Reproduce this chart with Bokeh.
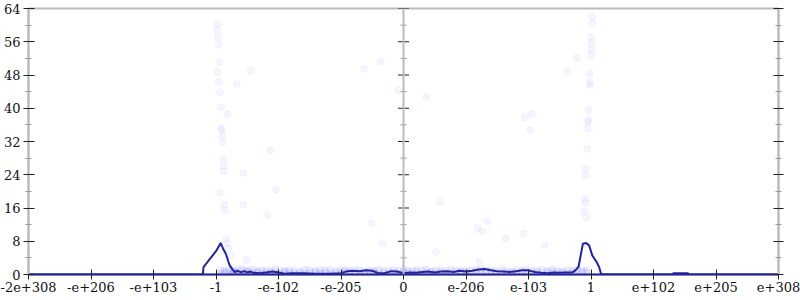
from bokeh.plotting import figure
from bokeh.models import LinearAxis, FixedTicker, Span
from bokeh.embed import file_html
from bokeh.resources import INLINE

# ---- data ----
tick_pos = [-6, -5, -4, -3, -2, -1, 0, 1, 2, 3, 4, 5, 6]
tick_labels = ["-2e+308", "-e+206", "-e+103", "-1", "-e-102", "-e-205", "0",
               "e-206", "e-103", "1", "e+102", "e+205", "e+308"]
y_major = [0, 8, 16, 24, 32, 40, 48, 56, 64]
y_minor = [4, 12, 20, 28, 36, 44, 52, 60]

line_x = [-6.0, -3.21, -3.2, -3.1, -3.0, -2.925, -2.88, -2.843, -2.80, -2.78, -2.74, -2.70,
          -2.65, -2.6, -2.55, -2.5, -2.45, -2.4, -2.3, -2.2, -2.1, -2.0, -1.9, -1.8, -1.6,
          -1.4, -1.2, -1.0, -0.9, -0.8, -0.7, -0.6, -0.5, -0.4, -0.3, -0.2, -0.1, 0.0, 0.1,
          0.2, 0.3, 0.4, 0.5, 0.6, 0.7, 0.8, 0.9, 1.0, 1.1, 1.2, 1.3, 1.4, 1.5, 1.6, 1.7,
          1.8, 1.9, 2.0, 2.1, 2.2, 2.3, 2.4, 2.5, 2.6, 2.7, 2.75, 2.8, 2.87, 2.92, 2.97,
          3.02, 3.09, 3.13, 3.16, 3.2, 4.3, 4.32, 4.55, 4.58, 6.0]
line_y = [0, 0, 1.8, 3.7, 5.6, 7.6, 6.0, 5.0, 3.0, 2.2, 1.3, 0.6,
          0.9, 0.5, 0.8, 0.5, 0.7, 0.4, 0.3, 0.5, 0.7, 0.5, 0.2, 0.3, 0.3,
          0.2, 0.2, 0.3, 0.8, 0.9, 0.8, 1.0, 0.9, 0.3, 0.3, 0.8, 0.7, 0.3, 0.5,
          0.4, 0.6, 0.7, 0.5, 0.7, 0.8, 0.6, 0.9, 0.7, 0.9, 1.2, 1.3, 1.0, 0.8, 0.7, 0.6,
          0.8, 1.0, 1.0, 0.6, 0.4, 0.3, 0.5, 0.4, 0.5, 0.5, 1.0, 1.8, 7.4, 7.6, 7.0,
          4.6, 3.0, 1.8, 0.2, 0, 0, 0.3, 0.3, 0, 0]

pts_x = [-2.976, -2.976, -2.965, -2.96, -2.949, -2.976, -2.443, -2.955, -2.667, -2.933,
         -2.923, -2.816, -2.923, -2.901, -2.896, -2.891, -2.128, -2.885, -2.88, -2.88,
         -2.565, -2.944, -2.037, -2.859, -2.859, -2.565, -2.176, -2.832, -2.821, -2.805,
         -2.763, -2.512, -0.512, -0.336, -0.363, -0.635, -0.085, 0.368,
         3.024, 3.019, 3.003, 3.008, 3.003, 3.003, 2.773, 2.619, 2.981, 2.981, 2.981,
         2.96, 2.955, 2.955, 2.944, 1.941, 2.053, 2.027, 2.939, 2.912, 2.912, 2.901,
         0.581, 1.184, 1.259, 1.344, 0.517, 1.211, 1.637, 1.915, 2.251, 2.891, 2.912, 2.928]
pts_y = [60.3, 58.8, 57.0, 55.3, 51.1, 48.6, 49.1, 46.3, 45.8, 43.8,
         40.2, 38.6, 35.2, 34.9, 33.4, 31.8, 29.9, 27.8, 26.1, 24.9,
         24.4, 19.8, 20.4, 16.8, 15.4, 16.8, 14.4, 8.6, 7.5, 6.2,
         4.6, 3.5, 12.3, 7.5, 51.2, 49.5, 44.4, 42.7,
         61.9, 60.5, 57.1, 55.7, 54.1, 52.7, 52.1, 48.9, 48.3, 46.3, 45.6,
         39.5, 37.2, 36.7, 35.2, 37.8, 38.7, 34.7, 30.2, 25.4, 23.9, 18.2,
         17.4, 11.2, 10.4, 12.8, 5.5, 3.2, 8.7, 9.8, 7.1, 15.2, 17.2, 13.8]

band_x = [-2.92, -2.86, -2.80, -2.74, -2.70, -2.64, -2.58, -2.52, -2.47, -2.40, -2.33, -2.27,
          -2.20, -2.12, -2.05, -1.98, -1.90, -1.83, -1.75, -1.66, -1.58, -1.50, -1.41, -1.33,
          -1.25, -1.17, -1.08, -1.00, -0.93, -0.86, -0.78, -0.70, -0.62, -0.55, -0.47, -0.40,
          -0.32, -0.24, -0.16, -0.08, 0.00, 0.07, 0.14, 0.21, 0.29, 0.36, 0.44, 0.52, 0.60,
          0.68, 0.76, 0.84, 0.92, 1.00, 1.08, 1.16, 1.24, 1.32, 1.40, 1.48, 1.57, 1.65, 1.73,
          1.81, 1.90, 1.98, 2.06, 2.14, 2.22, 2.30, 2.38, 2.46, 2.54, 2.62, 2.70, 2.78, 2.86, 2.93]
band_y1 = [1.1, 0.9, 1.2, 1.0, 0.8, 1.1, 1.3, 0.9, 1.0, 1.2, 0.8, 1.0,
           1.1, 0.9, 1.2, 1.0, 0.9, 1.1, 1.0, 0.8, 1.2, 1.0, 0.9, 1.1,
           1.0, 1.2, 0.9, 1.0, 1.1, 0.9, 1.2, 1.0, 0.8, 1.1, 1.0, 1.2,
           0.9, 1.0, 1.1, 0.9, 1.2, 1.0, 0.9, 1.1, 1.0, 1.2, 0.8, 1.0, 1.1,
           0.9, 1.2, 1.0, 0.9, 1.1, 1.0, 1.2, 1.3, 1.1, 1.0, 0.9, 1.2, 1.0, 0.8,
           1.1, 1.0, 1.2, 0.9, 1.0, 1.1, 0.9, 1.2, 1.0, 0.8, 1.1, 1.0, 1.2, 0.9, 1.0]
band_y2 = [0.3, 0.5, 0.2, 0.4, 0.6, 0.3, 0.2, 0.5, 0.4, 0.3, 0.6, 0.2,
           0.4, 0.5, 0.3, 0.2, 0.6, 0.4, 0.3, 0.5, 0.2, 0.4, 0.6, 0.3,
           0.5, 0.2, 0.4, 0.3, 0.6, 0.5, 0.2, 0.4, 0.3, 0.5, 0.6, 0.2,
           0.4, 0.3, 0.5, 0.2, 0.6, 0.4, 0.3, 0.5, 0.2, 0.4, 0.6, 0.3, 0.5,
           0.2, 0.4, 0.3, 0.6, 0.5, 0.2, 0.4, 0.3, 0.5, 0.6, 0.2, 0.4, 0.3, 0.5,
           0.2, 0.6, 0.4, 0.3, 0.5, 0.2, 0.4, 0.6, 0.3, 0.5, 0.2, 0.4, 0.3, 0.6, 0.5]

# ---- figure ----
FONT = "DejaVu Serif"
AXIS_GREY = "#bbbbbb"
LINE_COLOR = "#24249a"
DOT_COLOR = "#3a3aff"

p = figure(width=800, height=300, x_range=(-6, 6), y_range=(0, 64),
           output_backend="svg", toolbar_location=None, tools="",
           min_border_left=28, min_border_right=22, min_border_top=8, min_border_bottom=26,
           x_axis_type=None, y_axis_type=None)
p.grid.visible = False
p.outline_line_color = AXIS_GREY
p.outline_line_width = 2
p.background_fill_color = "white"
p.border_fill_color = "white"

# middle axis at x = 0
p.add_layout(Span(location=0, dimension="height", line_color=AXIS_GREY, line_width=2))

# scatter of samples
p.scatter(band_x, band_y1, size=7, fill_color=DOT_COLOR, fill_alpha=0.09,
          line_color=DOT_COLOR, line_alpha=0.04)
p.scatter(band_x, band_y2, size=7, fill_color=DOT_COLOR, fill_alpha=0.09,
          line_color=DOT_COLOR, line_alpha=0.04)
p.scatter(pts_x, pts_y, size=7, fill_color=DOT_COLOR, fill_alpha=0.05,
          line_color=DOT_COLOR, line_alpha=0.04)

# density line
p.line(line_x, line_y, line_color=LINE_COLOR, line_width=2)

# ticks of the middle axis
p.scatter([0] * len(y_major), y_major, marker="dash", size=11, line_color="#222222", line_width=1)
p.scatter([0] * len(y_minor), y_minor, marker="dash", size=6, line_color="#999999", line_width=1)

ticker_y = FixedTicker(ticks=y_major, minor_ticks=y_minor)


def style_y(ax):
    ax.ticker = ticker_y
    ax.axis_line_color = AXIS_GREY
    ax.axis_line_width = 2
    ax.major_tick_in = 6
    ax.major_tick_out = 5
    ax.minor_tick_in = 3
    ax.minor_tick_out = 3
    ax.major_tick_line_color = "#222222"
    ax.minor_tick_line_color = "#999999"
    ax.major_label_standoff = 3
    ax.major_label_text_font = FONT
    ax.major_label_text_color = "#111111"
    ax.major_label_text_font_size = "13px"


ly = LinearAxis()
style_y(ly)
p.add_layout(ly, "left")

ry = LinearAxis()
style_y(ry)
ry.major_tick_in = 5
ry.major_label_overrides = {t: "" for t in y_major}
p.add_layout(ry, "right")

bx = LinearAxis()
bx.ticker = FixedTicker(ticks=tick_pos, minor_ticks=[])
bx.major_label_overrides = {t: l for t, l in zip(tick_pos, tick_labels)}
bx.axis_line_color = LINE_COLOR
bx.axis_line_width = 2
bx.major_tick_in = 5
bx.major_tick_out = 5
bx.major_tick_line_color = "#222222"
bx.major_label_standoff = 2
bx.major_label_text_font = FONT
bx.major_label_text_color = "#111111"
bx.major_label_text_font_size = "13px"
p.add_layout(bx, "below")

open("out.html", "w").write(file_html(p, INLINE))
